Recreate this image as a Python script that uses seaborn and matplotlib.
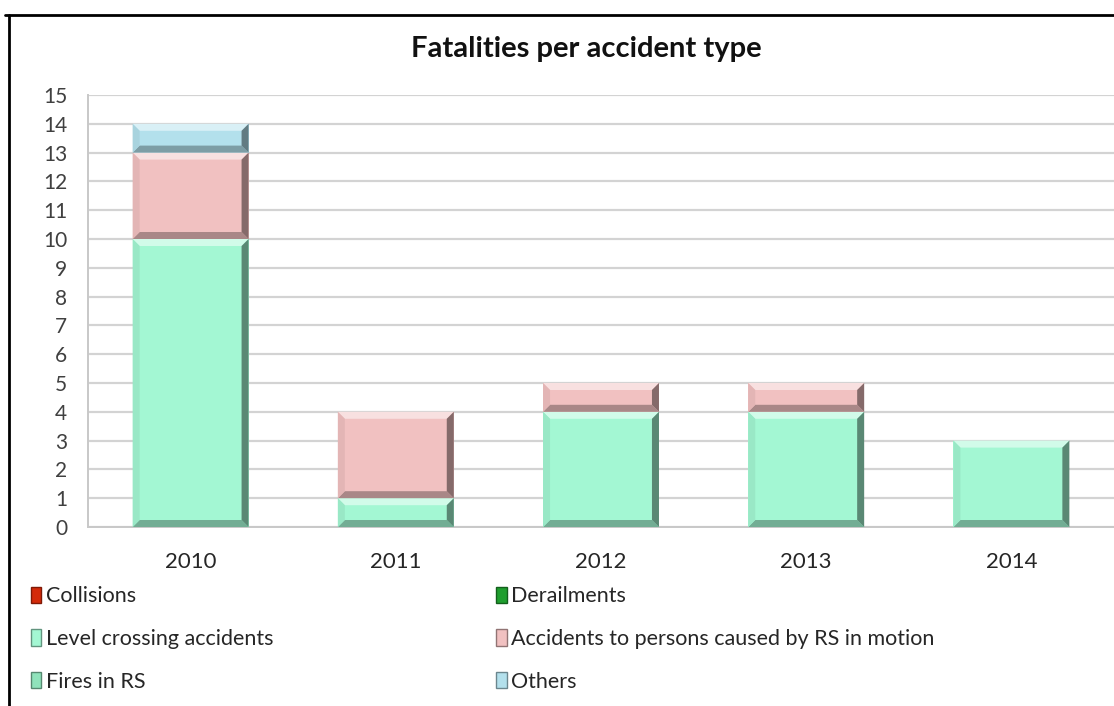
"""
Fatalities per accident type - stacked bars with an Excel-like bevel look.
"""

import numpy as np
import pandas as pd
import matplotlib.pyplot as plt
import matplotlib.colors as mcolors
from matplotlib.patches import Polygon, Patch
from matplotlib.lines import Line2D
import seaborn as sns

# Data
years = ["2010", "2011", "2012", "2013", "2014"]
collisions = [0, 0, 0, 0, 0]
derailments = [0, 0, 0, 0, 0]
level_crossing = [10, 1, 4, 4, 3]
persons_rs = [3, 3, 1, 1, 0]
fires_rs = [0, 0, 0, 0, 0]
others = [1, 0, 0, 0, 0]

series_names = [
    "Collisions",
    "Derailments",
    "Level crossing accidents",
    "Accidents to persons caused by RS in motion",
    "Fires in RS",
    "Others",
]
series_values = [collisions, derailments, level_crossing, persons_rs, fires_rs, others]
series_colors = ["#d42a0a", "#1f9e2e", "#a3f7d3", "#f1c1c1", "#8fe3bb", "#b3e0ec"]

y_ticks = list(range(0, 16))


def shade(color, factor):
    rgb = np.array(mcolors.to_rgb(color))
    if factor >= 1:
        return tuple(rgb + (1 - rgb) * (factor - 1))
    return tuple(rgb * factor)


def main():
    sns.set_style("white")
    plt.rcParams["font.family"] = ["Lato", "DejaVu Sans"]

    fig = plt.figure(figsize=(11.14, 7.06), dpi=100)
    ax = fig.add_axes([88 / 1114, 179 / 706, (1114 - 88) / 1114, 432 / 706])

    bottom = np.zeros(len(years))
    for name, vals, col in zip(series_names, series_values, series_colors):
        df = pd.DataFrame({"year": years, "value": vals})
        sns.barplot(data=df, x="year", y="value", order=years, color=col,
                    width=0.565, bottom=bottom.copy(), errorbar=None,
                    linewidth=0, saturation=1, ax=ax, zorder=3)
        bottom += np.array(vals)

    ax.set_xlim(-0.5, len(years) - 0.5)
    ax.set_ylim(0, 15)
    ax.set_yticks(y_ticks)
    ax.set_xlabel("")
    ax.set_ylabel("")
    ax.grid(axis="y", color="#d3d3d3", linewidth=1.6, zorder=0)
    ax.set_axisbelow(True)
    for side in ["top", "right"]:
        ax.spines[side].set_visible(False)
    for side in ["left", "bottom"]:
        ax.spines[side].set_color("#c8c8c8")
        ax.spines[side].set_linewidth(1.4)
    ax.tick_params(axis="y", length=0, pad=15, labelsize=15, labelcolor="#404040")
    ax.tick_params(axis="x", length=0, pad=18, labelsize=16, labelcolor="#262626")

    # bevel decoration on each drawn segment
    bb = ax.get_window_extent()
    dx = 7 / (bb.width / len(years))
    dy = 7 / (bb.height / 15)
    for p in list(ax.patches):
        h = p.get_height()
        if h <= 0:
            continue
        x0, y0 = p.get_x(), p.get_y()
        x1, y1 = x0 + p.get_width(), y0 + h
        fc = p.get_facecolor()
        parts = [
            ([(x0, y1), (x1, y1), (x1 - dx, y1 - dy), (x0 + dx, y1 - dy)], shade(fc, 1.5)),
            ([(x0, y0), (x1, y0), (x1 - dx, y0 + dy), (x0 + dx, y0 + dy)], shade(fc, 0.7)),
            ([(x1, y0), (x1, y1), (x1 - dx, y1 - dy), (x1 - dx, y0 + dy)], shade(fc, 0.55)),
            ([(x0, y0), (x0, y1), (x0 + dx, y1 - dy), (x0 + dx, y0 + dy)], shade(fc, 0.94)),
        ]
        for pts, c in parts:
            ax.add_patch(Polygon(pts, closed=True, facecolor=c, edgecolor="none", zorder=4))

    fig.text(0.526, 0.93, "Fatalities per accident type", ha="center", va="center",
             fontsize=21, fontweight="bold", color="#111111")

    # legend: two columns, row-wise order like the original
    handles = [Patch(facecolor=c, edgecolor=shade(c, 0.6), linewidth=1) for c in series_colors]
    left_idx = [0, 2, 4]
    right_idx = [1, 3, 5]
    common = dict(frameon=False, fontsize=15.5, handlelength=0.5, handleheight=0.8,
                  handletextpad=0.2, labelspacing=1.05, labelcolor="#262626")
    fig.legend([handles[i] for i in left_idx], [series_names[i] for i in left_idx],
               loc="upper left", bbox_to_anchor=(0.010, 0.197), **common)
    fig.legend([handles[i] for i in right_idx], [series_names[i] for i in right_idx],
               loc="upper left", bbox_to_anchor=(0.428, 0.197), **common)

    # outer chart frame (top and left edges visible)
    fig.add_artist(Line2D([5 / 1114, 1], [1 - 15 / 706, 1 - 15 / 706], color="black", linewidth=2))
    fig.add_artist(Line2D([9 / 1114, 9 / 1114], [0, 1 - 15 / 706], color="black", linewidth=2))

    fig.savefig("out.png", dpi=100)


if __name__ == "__main__":
    main()
